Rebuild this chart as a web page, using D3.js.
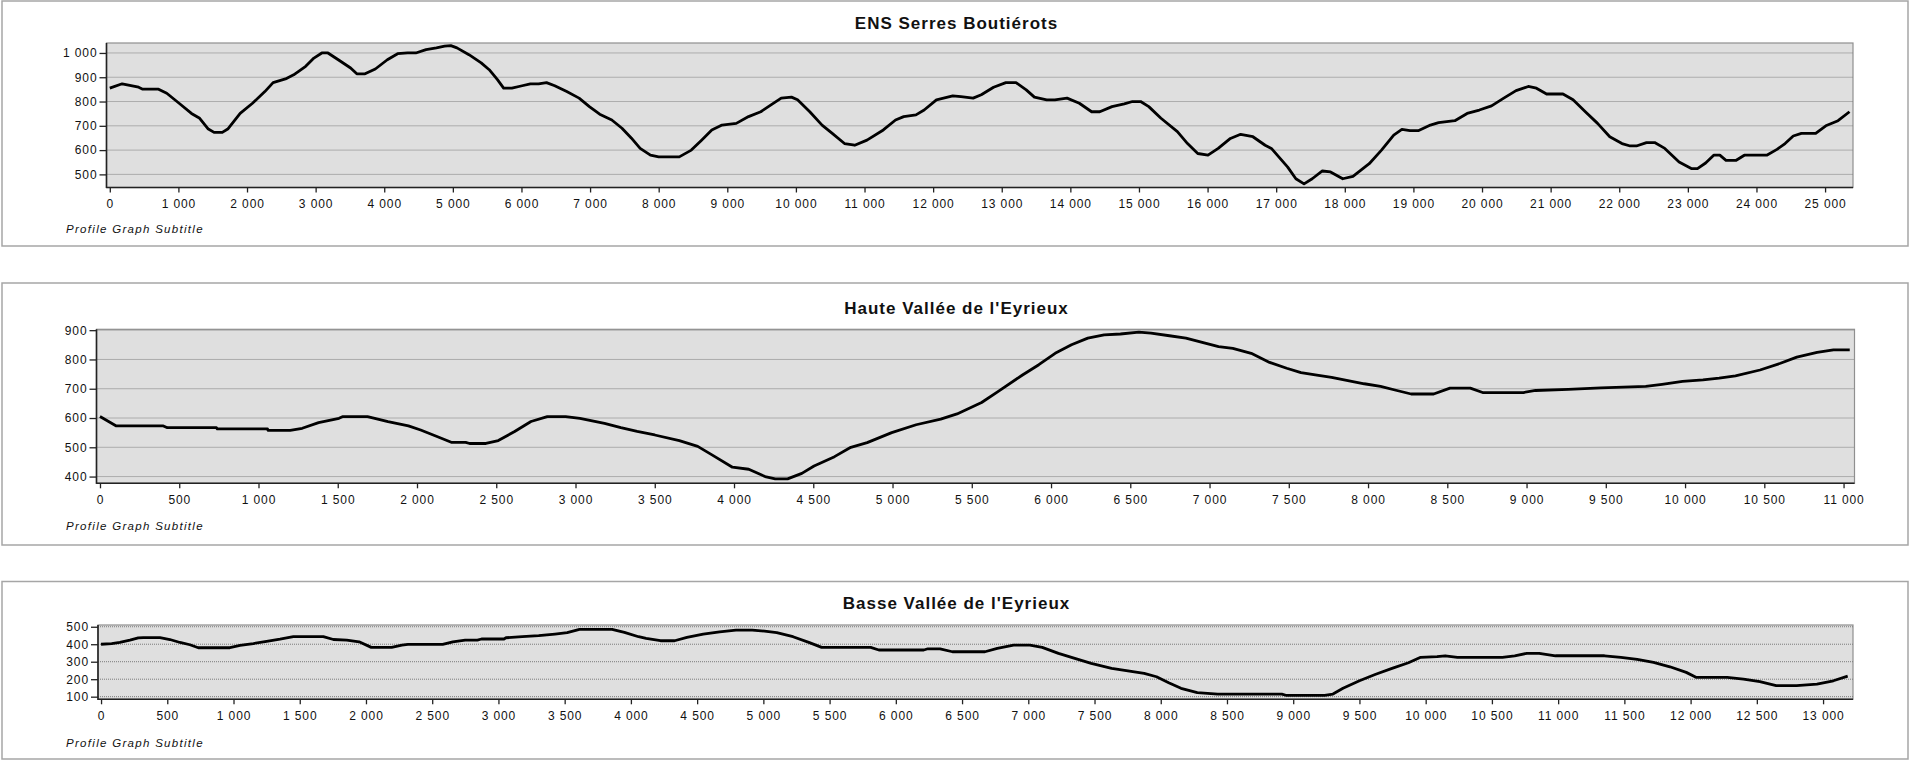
<!DOCTYPE html>
<html><head><meta charset="utf-8">
<script src="https://cdn.jsdelivr.net/npm/d3@7"></script>
<style>
body{margin:0;background:#fff;}
svg{display:block;}
text{font-family:"Liberation Sans",Arial,sans-serif;}
</style></head><body>
<svg id="c" width="1910" height="760"></svg>
<script>
// ---------- DATA ----------
const titles = ["ENS Serres Boutiérots", "Haute Vallée de l'Eyrieux", "Basse Vallée de l'Eyrieux"];
const subtitle = "Profile Graph Subtitle";

const serresDist = [0,180,420,480,710,830,1010,1190,1310,1430,1520,1640,1725,1900,2080,2260,2380,2560,2680,2855,2975,3090,3180,3330,3510,3600,3720,3870,4045,4195,4340,4460,4610,4760,4880,4970,5060,5235,5413,5530,5650,5740,5860,6010,6130,6250,6365,6485,6660,6840,6990,7140,7317,7465,7600,7730,7880,8000,8300,8476,8625,8774,8923,9131,9310,9488,9637,9786,9935,10024,10202,10381,10530,10708,10857,11036,11274,11452,11571,11750,11869,12048,12286,12405,12583,12702,12881,13060,13208,13357,13476,13655,13774,13952,14131,14310,14429,14607,14786,14905,15024,15143,15321,15560,15708,15857,16006,16155,16333,16482,16661,16839,16930,17168,17287,17406,17525,17673,17792,17970,18119,18356,18535,18713,18832,18950,19070,19248,19367,19604,19783,19961,20139,20317,20496,20674,20793,20941,21180,21327,21506,21684,21862,22040,22160,22250,22397,22516,22664,22872,23050,23140,23259,23377,23466,23556,23705,23823,24150,24299,24417,24536,24655,24863,25011,25189,25356];
const serresElev = [855,873,859,851,851,834,793,751,731,688,673,673,688,751,793,841,878,893,910,945,979,1000,1000,972,938,914,914,934,972,997,1000,1000,1014,1021,1028,1030,1021,993,959,931,890,855,855,865,873,873,878,865,841,814,779,748,724,690,650,607,579,572,572,600,641,683,703,710,738,758,786,814,818,807,758,703,669,627,620,641,683,724,738,745,765,807,823,820,814,828,859,878,878,848,818,807,807,814,793,758,758,779,790,800,800,779,731,676,627,586,579,607,648,665,655,620,607,530,482,461,482,514,510,482,492,544,600,662,685,680,680,703,713,721,751,765,782,814,845,862,855,831,831,807,758,710,655,627,617,617,631,631,607,551,524,524,547,579,579,558,558,579,579,603,627,658,669,669,700,721,758];

const hauteDist = [0,103,400,425,735,740,1057,1060,1200,1276,1379,1508,1533,1688,1817,1946,2023,2126,2216,2307,2332,2435,2513,2616,2719,2822,2938,3028,3183,3286,3389,3500,3655,3771,3861,3990,4093,4196,4260,4338,4428,4505,4634,4737,4840,4995,5149,5304,5407,5562,5665,5820,5923,6026,6129,6232,6335,6438,6554,6631,6747,6851,6954,7057,7147,7263,7379,7487,7577,7667,7770,7873,7976,8079,8182,8272,8414,8517,8645,8723,8980,9057,9263,9469,9752,9855,9984,10113,10215,10318,10473,10602,10705,10833,10936,11039];
const hauteElev = [605,573,573,567,567,563,563,558,558,565,584,599,605,605,588,573,559,537,517,517,513,513,523,554,588,605,605,599,582,567,554,542,523,503,474,432,425,400,392,392,411,436,468,500,516,550,577,596,614,653,690,747,782,821,850,873,884,887,893,890,881,873,858,844,838,821,790,770,755,747,739,728,717,708,694,682,682,702,702,687,687,694,698,703,708,715,725,730,736,744,764,787,808,824,833,833];

const basseDist = [0,80,142,218,281,319,445,520,596,671,734,973,1049,1150,1250,1351,1452,1678,1754,1855,1948,2040,2194,2271,2317,2579,2656,2749,2841,2872,3042,3057,3180,3304,3427,3519,3612,3858,3951,4058,4115,4223,4330,4423,4546,4670,4793,4916,5009,5101,5224,5348,5440,5810,5872,6211,6242,6334,6427,6673,6766,6889,7012,7105,7228,7351,7475,7629,7752,7875,7968,8060,8153,8276,8430,8914,8944,9237,9300,9376,9500,9623,9746,9870,9962,10086,10147,10240,10579,10672,10764,10857,10980,11350,11474,11597,11720,11844,11967,12044,12276,12399,12523,12646,12800,12954,13078,13186];
const basseElev = [400,404,410,423,436,438,438,427,410,397,380,380,393,404,417,429,444,444,427,424,414,382,382,395,399,399,414,424,424,430,430,437,443,449,458,466,485,485,468,443,433,420,420,439,458,471,481,481,475,466,443,409,382,382,367,367,374,374,357,357,376,395,395,382,348,319,290,262,247,233,214,180,148,123,115,115,108,108,115,148,191,228,262,294,325,329,334,325,325,334,348,348,334,334,325,313,296,271,239,210,210,201,186,163,163,172,191,218];

const serresXTicks = [0,1000,2000,3000,4000,5000,6000,7000,8000,9000,10000,11000,12000,13000,14000,15000,16000,17000,18000,19000,20000,21000,22000,23000,24000,25000];
const serresYTicks = [500,600,700,800,900,1000];
const hauteXTicks = [0,500,1000,1500,2000,2500,3000,3500,4000,4500,5000,5500,6000,6500,7000,7500,8000,8500,9000,9500,10000,10500,11000];
const hauteYTicks = [400,500,600,700,800,900];
const basseXTicks = [0,500,1000,1500,2000,2500,3000,3500,4000,4500,5000,5500,6000,6500,7000,7500,8000,8500,9000,9500,10000,10500,11000,11500,12000,12500,13000];
const basseYTicks = [100,200,300,400,500];

// ---------- LAYOUT ----------
const panels = [
  {title: titles[0], dist: serresDist, elev: serresElev, xTicks: serresXTicks, yTicks: serresYTicks,
   xDomain: [-48, 25407], yDomain: [446, 1041],
   box: {x0: 2, y0: 1, x1: 1908, y1: 246}, plot: {x0: 106.5, y0: 43, x1: 1853, y1: 187.5},
   titleY: 29, subY: 232.5},
  {title: titles[1], dist: hauteDist, elev: hauteElev, xTicks: hauteXTicks, yTicks: hauteYTicks,
   xDomain: [-22, 11069], yDomain: [377, 903],
   box: {x0: 2, y0: 283, x1: 1908, y1: 545}, plot: {x0: 96.5, y0: 329.3, x1: 1854.5, y1: 483.3},
   titleY: 313.5, subY: 530},
  {title: titles[2], dist: basseDist, elev: basseElev, xTicks: basseXTicks, yTicks: basseYTicks,
   xDomain: [-23, 13226], yDomain: [85, 510],
   box: {x0: 2, y0: 581.5, x1: 1908, y1: 759}, plot: {x0: 98, y0: 625, x1: 1853, y1: 699.3},
   titleY: 609, subY: 747}
];

const fmt = d3.formatLocale({decimal: ",", thousands: "\u00a0", grouping: [3], currency: ["", ""]}).format(",d");
const svg = d3.select("#c");

panels.forEach((p, i) => {
  const g = svg.append("g");
  const x = d3.scaleLinear().domain(p.xDomain).range([p.plot.x0, p.plot.x1]);
  const y = d3.scaleLinear().domain(p.yDomain).range([p.plot.y1, p.plot.y0]);

  g.append("rect").attr("x", p.box.x0).attr("y", p.box.y0)
    .attr("width", p.box.x1 - p.box.x0).attr("height", p.box.y1 - p.box.y0)
    .attr("fill", "#fff").attr("stroke", "#a6a6a6").attr("stroke-width", 1.5);

  g.append("text").attr("x", 956.5).attr("y", p.titleY).attr("text-anchor", "middle")
    .attr("font-size", 17).attr("font-weight", "bold").style("letter-spacing", "1px")
    .attr("fill", "#111").text(p.title);

  g.append("rect").attr("x", p.plot.x0).attr("y", p.plot.y0)
    .attr("width", p.plot.x1 - p.plot.x0).attr("height", p.plot.y1 - p.plot.y0)
    .attr("fill", "#dfdfdf").attr("stroke", "#8f8f8f").attr("stroke-width", 1.2);

  g.append("g").selectAll("line").data(p.yTicks).join("line")
    .attr("x1", p.plot.x0).attr("x2", p.plot.x1)
    .attr("y1", d => y(d)).attr("y2", d => y(d))
    .attr("stroke", "#7a7a7a").attr("stroke-width", 1).attr("stroke-dasharray", "1,1");

  const clipId = "clip" + i;
  g.append("clipPath").attr("id", clipId).append("rect")
    .attr("x", p.plot.x0).attr("y", p.plot.y0)
    .attr("width", p.plot.x1 - p.plot.x0).attr("height", p.plot.y1 - p.plot.y0);

  const pts = p.dist.map((d, k) => [d, p.elev[k]]);
  g.append("path").datum(pts).attr("clip-path", `url(#${clipId})`)
    .attr("fill", "none").attr("stroke", "#000").attr("stroke-width", 2.8)
    .attr("stroke-linejoin", "round")
    .attr("d", d3.line().x(d => x(d[0])).y(d => y(d[1])));

  // axes
  const yAx = g.append("g").attr("transform", `translate(${p.plot.x0},0)`)
    .call(d3.axisLeft(y).tickValues(p.yTicks).tickSize(7).tickPadding(2).tickFormat(fmt));
  const xAx = g.append("g").attr("transform", `translate(0,${p.plot.y1})`)
    .call(d3.axisBottom(x).tickValues(p.xTicks).tickSize(5).tickPadding(7).tickFormat(fmt));
  [yAx, xAx].forEach(a => {
    a.select(".domain").remove();
    a.selectAll(".tick line").attr("stroke", "#222").attr("stroke-width", 1.3);
    a.selectAll("text").attr("font-size", 12).attr("fill", "#111")
      .attr("font-family", '"Liberation Sans",Arial,sans-serif').style("letter-spacing", "0.9px");
  });
  g.append("line").attr("x1", p.plot.x0).attr("x2", p.plot.x0).attr("y1", p.plot.y0).attr("y2", p.plot.y1 + 0.6)
    .attr("stroke", "#222").attr("stroke-width", 1.6);
  g.append("line").attr("x1", p.plot.x0).attr("x2", p.plot.x1).attr("y1", p.plot.y1).attr("y2", p.plot.y1)
    .attr("stroke", "#222").attr("stroke-width", 1.6);

  g.append("text").attr("x", 66).attr("y", p.subY).attr("font-size", 11.5)
    .attr("font-style", "italic").style("letter-spacing", "1.3px").attr("fill", "#111").text(subtitle);
});
</script>
</body></html>
